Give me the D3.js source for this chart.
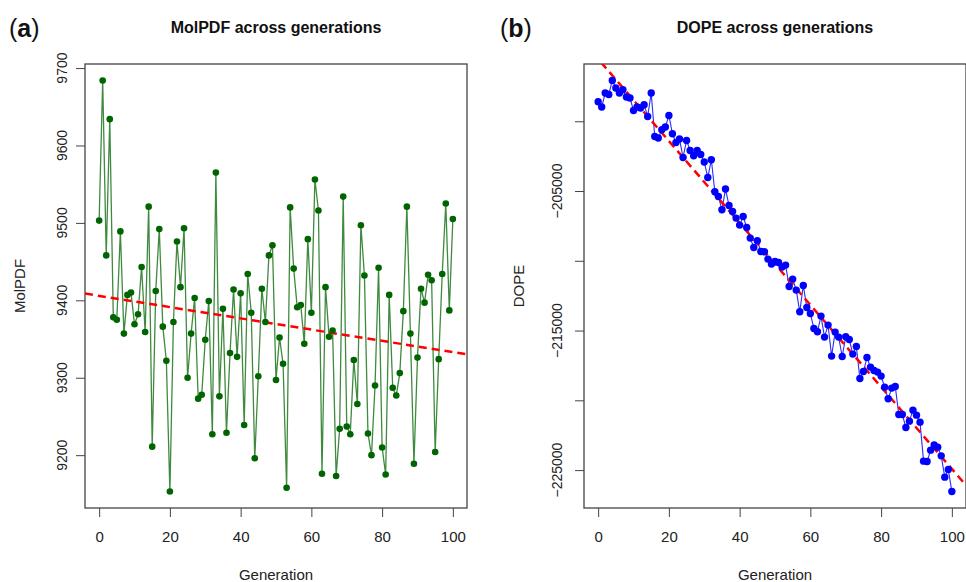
<!DOCTYPE html>
<html>
<head>
<meta charset="utf-8">
<script src="https://cdn.jsdelivr.net/npm/d3@7"></script>
<style>
  body { margin: 0; background: #fff; }
  svg { display: block; font-family: "Liberation Sans", Arial, sans-serif; }
</style>
</head>
<body>
<div id="chart"></div>
<script>
// generations 0..100
var generations = d3.range(0, 101);

// MolPDF per generation (panel a)
var molpdf = [9503, 9684, 9458, 9634, 9378, 9375, 9489, 9357, 9407, 9410,
  9369, 9382, 9443, 9359, 9521, 9211, 9412, 9492, 9366, 9322,
  9153, 9372, 9476, 9417, 9493, 9300, 9357, 9403, 9273, 9278,
  9349, 9399, 9227, 9565, 9276, 9389, 9229, 9332, 9414, 9327,
  9409, 9239, 9434, 9384, 9196, 9302, 9415, 9372, 9458, 9471,
  9297, 9352, 9318, 9158, 9520, 9441, 9391, 9394, 9344, 9479,
  9384, 9556, 9516, 9176, 9417, 9353, 9361, 9173, 9234, 9534,
  9237, 9227, 9323, 9266, 9497, 9432, 9228, 9200, 9290, 9442,
  9210, 9175, 9407, 9287, 9277, 9306, 9386, 9521, 9357, 9189,
  9326, 9415, 9397, 9433, 9426, 9204, 9324, 9434, 9525, 9387,
  9505];

// DOPE per generation (panel b)
var dope = [-198602, -198982, -197978, -198079, -197075, -197620, -197978, -197742, -198265, -198337,
  -199226, -198982, -199054, -198817, -199656, -197978, -201090, -201204, -200609, -200416,
  -199584, -200896, -201520, -201276, -202595, -201376, -202093, -202473, -202093, -202380,
  -202925, -204029, -202760, -205054, -205391, -206344, -204860, -206036, -206466, -206939,
  -207441, -206824, -207613, -208373, -209047, -208566, -209333, -209355, -209878, -210237,
  -210050, -210122, -210452, -210308, -211842, -211312, -212100, -213656, -211771, -213348,
  -213778, -214853, -215090, -213964, -215470, -214609, -216832, -215111, -215470, -216860,
  -215448, -215642, -216688, -216143, -218437, -217935, -216932, -217620, -217864, -217978,
  -218265, -219054, -219892, -219125, -219011, -221018, -221018, -221950, -221491, -220703,
  -221061, -221563, -224359, -224387, -223570, -223190, -223355, -223978, -225505, -224961,
  -226538];

var xTicks = [0, 20, 40, 60, 80, 100];
var molTicks = [9200, 9300, 9400, 9500, 9600, 9700];
var dopeTicks = [-225000, -220000, -215000, -210000, -205000, -200000];
var dopeLabelled = [-225000, -215000, -205000];

var width = 966, height = 582;
var svg = d3.select("#chart").append("svg")
  .attr("width", width)
  .attr("height", height);
svg.append("rect").attr("width", width).attr("height", height).attr("fill", "#fff");

// R style: range padded by 4% on both sides
function padded(ext) {
  var d = (ext[1] - ext[0]) * 0.04;
  return [ext[0] - d, ext[1] + d];
}

function drawPanel(p) {
  var g = svg.append("g");
  var x = d3.scaleLinear().domain(padded(d3.extent(generations))).range([p.left, p.right]);
  var y = d3.scaleLinear().domain(padded(d3.extent(p.values))).range([p.bottom, p.top]);

  var clipId = "clip-" + p.tag;
  svg.append("clipPath").attr("id", clipId)
    .append("rect")
    .attr("x", p.left).attr("y", p.top)
    .attr("width", p.right - p.left).attr("height", p.bottom - p.top);

  // x axis
  var xAxis = g.append("g")
    .attr("transform", "translate(0," + p.bottom + ")")
    .call(d3.axisBottom(x).tickValues(xTicks).tickSize(9).tickPadding(14).tickFormat(d3.format("d")));
  xAxis.select(".domain").remove();
  xAxis.selectAll("line").attr("stroke", "#444");
  xAxis.selectAll("text").attr("font-size", 15).attr("fill", "#222")
    .attr("font-family", "Liberation Sans, Arial, sans-serif");

  // y axis with rotated labels
  var yAxis = g.append("g")
    .attr("transform", "translate(" + p.left + ",0)")
    .call(d3.axisLeft(y).tickValues(p.ticks).tickSize(9).tickFormat(""));
  yAxis.select(".domain").remove();
  yAxis.selectAll("line").attr("stroke", "#444");

  g.selectAll(".ylab")
    .data(p.labelled)
    .enter().append("text")
      .attr("class", "ylab")
      .attr("transform", function(d) { return "translate(" + (p.left - p.labOff) + "," + y(d) + ") rotate(-90)"; })
      .attr("text-anchor", "middle")
      .attr("font-size", 14)
      .attr("fill", "#222")
      .text(function(d) { return d < 0 ? "\u2212" + Math.abs(d) : d; });

  // box
  g.append("rect")
    .attr("x", p.left).attr("y", p.top)
    .attr("width", p.right - p.left).attr("height", p.bottom - p.top)
    .attr("fill", "none").attr("stroke", "#444").attr("stroke-width", 1.3);

  // titles
  g.append("text")
    .attr("x", (p.left + p.right) / 2).attr("y", 33)
    .attr("text-anchor", "middle")
    .attr("font-size", 16).attr("font-weight", "bold").attr("fill", "#111")
    .text(p.title);

  var tag = g.append("text").attr("x", p.tagX).attr("y", 37).attr("font-size", 25).attr("fill", "#111");
  tag.append("tspan").text("(");
  tag.append("tspan").attr("font-weight", "bold").text(p.tag);
  tag.append("tspan").text(")");

  g.append("text")
    .attr("x", (p.left + p.right) / 2).attr("y", 580)
    .attr("text-anchor", "middle")
    .attr("font-size", 15).attr("fill", "#222")
    .text("Generation");

  g.append("text")
    .attr("transform", "translate(" + (p.left - 60) + "," + ((p.top + p.bottom) / 2) + ") rotate(-90)")
    .attr("text-anchor", "middle")
    .attr("font-size", 15).attr("fill", "#222")
    .text(p.ylabel);

  var plot = g.append("g").attr("clip-path", "url(#" + clipId + ")");

  // series line
  var line = d3.line()
    .x(function(d, i) { return x(generations[i]); })
    .y(function(d) { return y(d); });
  plot.append("path")
    .datum(p.values)
    .attr("d", line)
    .attr("fill", "none")
    .attr("stroke", p.lineColor)
    .attr("stroke-width", p.lineWidth);

  // least-squares trend line
  var mx = d3.mean(generations), my = d3.mean(p.values);
  var sxy = d3.sum(generations, function(g, i) { return (g - mx) * (p.values[i] - my); });
  var sxx = d3.sum(generations, function(g) { return (g - mx) * (g - mx); });
  var slope = sxy / sxx, icept = my - slope * mx;
  var xd = x.domain();
  plot.append("line")
    .attr("x1", x(xd[0])).attr("y1", y(icept + slope * xd[0]))
    .attr("x2", x(xd[1])).attr("y2", y(icept + slope * xd[1]))
    .attr("stroke", "#ff0000")
    .attr("stroke-width", 2.5)
    .attr("stroke-dasharray", "8,5");

  plot.selectAll("circle")
    .data(p.values)
    .enter().append("circle")
      .attr("cx", function(d, i) { return x(generations[i]); })
      .attr("cy", function(d) { return y(d); })
      .attr("r", p.radius)
      .attr("fill", p.pointColor);
}

drawPanel({
  tag: "a", tagX: 9, title: "MolPDF across generations", ylabel: "MolPDF",
  values: molpdf, ticks: molTicks, labelled: molTicks, labOff: 18,
  left: 85, right: 467, top: 64, bottom: 508,
  lineColor: "#3f8a3f", lineWidth: 1.3, pointColor: "#006400", radius: 3.3
});

drawPanel({
  tag: "b", tagX: 500, title: "DOPE across generations", ylabel: "DOPE",
  values: dope, ticks: dopeTicks, labelled: dopeLabelled, labOff: 22,
  left: 584, right: 966, top: 64, bottom: 508,
  lineColor: "#2a2aff", lineWidth: 1.1, pointColor: "#0000ff", radius: 3.7
});
</script>
</body>
</html>
